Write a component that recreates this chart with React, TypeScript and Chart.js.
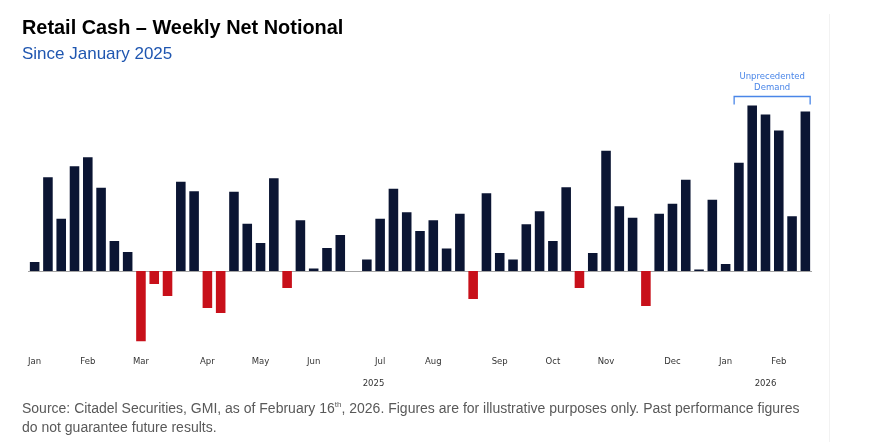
import React, { useEffect, useRef } from "react";
import { Chart, registerables } from "chart.js";

Chart.register(...registerables);

// Weekly buckets since January 2025 (month label on the first week of each month)
const weekLabels: string[] = [
  "Jan", "", "", "", "Feb", "", "", "", "Mar", "", "", "", "", "Apr", "", "", "",
  "May", "", "", "", "Jun", "", "", "", "", "Jul", "", "", "", "Aug", "", "", "", "",
  "Sep", "", "", "", "Oct", "", "", "", "Nov", "", "", "", "", "Dec", "", "", "",
  "Jan", "", "", "", "Feb", "", "",
];

// Retail cash weekly net notional (relative units)
const netNotional: number[] = [
  9, 94, 52.5, 105, 114, 83.5, 30, 19, -70.5, -13, -25, 89.5, 80, -37, -42,
  79.5, 47.5, 28, 93, -17, 51, 2.5, 23, 36, 0, 11.5, 52.5, 82.5, 59, 40, 51,
  22.5, 57.5, -28, 78, 18, 11.5, 47, 60, 30, 84, -17, 18, 120.5, 65, 53.5,
  -35, 57.5, 67.5, 91.5, 1.5, 71.5, 7, 108.5, 166, 157, 141, 55, 160,
];

const yearLabels: string[] = ["2025", "2026"];
const yearLabelWeeks: number[] = [25.5, 55];

const annotationLines: string[] = ["Unprecedented", "Demand"];
const annotationWeeks: number[] = [53, 58];

const NAVY = "#0b1533";
const RED = "#c8101a";
const ANNOT = "#4a86e8";

const overlayPlugin = {
  id: "overlay",
  beforeDatasetsDraw(chart: any) {
    const { ctx, chartArea, scales } = chart;
    const y0 = Math.round(scales.y.getPixelForValue(0)) + 0.5;
    ctx.save();
    ctx.strokeStyle = "#a3a3a3";
    ctx.lineWidth = 1;
    ctx.beginPath();
    ctx.moveTo(chartArea.left, y0);
    ctx.lineTo(chartArea.right, y0);
    ctx.stroke();
    ctx.restore();
  },
  afterDraw(chart: any) {
    const { ctx, scales } = chart;
    const x = scales.x;
    const step = x.getPixelForValue(1) - x.getPixelForValue(0);
    ctx.save();
    // year labels
    ctx.fillStyle = "#333333";
    ctx.font = "8.5px 'DejaVu Sans'";
    ctx.textAlign = "center";
    ctx.textBaseline = "middle";
    yearLabels.forEach((t, i) => {
      const px = x.getPixelForValue(0) + yearLabelWeeks[i] * step;
      ctx.fillText(t, px, 384);
    });
    // annotation bracket
    const meta = chart.getDatasetMeta(0);
    const b0 = meta.data[annotationWeeks[0]];
    const b1 = meta.data[annotationWeeks[1]];
    const left = b0.x - b0.width / 2;
    const right = b1.x + b1.width / 2;
    const top = Math.min(...meta.data.slice(annotationWeeks[0], annotationWeeks[1] + 1).map((e: any) => e.y));
    const by = Math.round(top - 9) + 0.5;
    ctx.strokeStyle = ANNOT;
    ctx.lineWidth = 1.3;
    ctx.beginPath();
    ctx.moveTo(left, by + 8);
    ctx.lineTo(left, by);
    ctx.lineTo(right, by);
    ctx.lineTo(right, by + 8);
    ctx.stroke();
    ctx.fillStyle = ANNOT;
    ctx.font = "8.5px 'DejaVu Sans'";
    ctx.textBaseline = "alphabetic";
    const cx = (left + right) / 2;
    ctx.fillText(annotationLines[0], cx, by - 18);
    ctx.fillText(annotationLines[1], cx, by - 7);
    ctx.restore();
  },
};

export default function App() {
  const ref = useRef<HTMLCanvasElement | null>(null);

  useEffect(() => {
    document.body.style.margin = "0";
    const chart = new Chart(ref.current as HTMLCanvasElement, {
      type: "bar",
      data: {
        labels: weekLabels,
        datasets: [
          {
            data: netNotional,
            backgroundColor: netNotional.map((v) => (v < 0 ? RED : NAVY)),
            borderWidth: 0,
            categoryPercentage: 1,
            barPercentage: 0.72,
          },
        ],
      },
      options: {
        animation: false,
        responsive: false,
        maintainAspectRatio: false,
        layout: { padding: { top: 91.5, left: 28, right: 66, bottom: 65.5 } },
        plugins: {
          legend: { display: false },
          tooltip: { enabled: false },
          title: { display: false },
        },
        scales: {
          x: {
            grid: { display: false, drawTicks: false },
            border: { display: false },
            ticks: {
              autoSkip: false,
              maxRotation: 0,
              minRotation: 0,
              padding: 10,
              color: "#333333",
              font: { family: "'DejaVu Sans'", size: 8.5 },
            },
          },
          y: {
            display: false,
            min: -75.5,
            max: 180,
          },
        },
      },
      plugins: [overlayPlugin],
    });
    return () => chart.destroy();
  }, []);

  return (
    <div style={{ position: "fixed", left: 0, top: 0, width: 878, height: 442, background: "#fff", overflow: "hidden" }}>
      <div style={{ position: "absolute", left: 829, top: 14, width: 1, height: 428, background: "#f2f2f2" }} />
      <canvas ref={ref} width={878} height={442} style={{ position: "absolute", left: 0, top: 0, width: 878, height: 442 }} />
      <div
        style={{
          position: "absolute", left: 22, top: 17, fontFamily: "'Liberation Sans', Arial, sans-serif",
          fontWeight: 700, fontSize: 19.9, lineHeight: "20px", color: "#000", whiteSpace: "nowrap",
        }}
      >
        Retail Cash – Weekly Net Notional
      </div>
      <div
        style={{
          position: "absolute", left: 22, top: 45, fontFamily: "'Liberation Sans', Arial, sans-serif",
          fontSize: 17, lineHeight: "17px", color: "#1f56b0", whiteSpace: "nowrap",
        }}
      >
        Since January 2025
      </div>
      <div
        style={{
          position: "absolute", left: 22, top: 398.5, width: 792, fontFamily: "'Liberation Sans', Arial, sans-serif",
          fontSize: 14, lineHeight: "19px", color: "#595959",
        }}
      >
        Source: Citadel Securities, GMI, as of February 16<sup style={{ fontSize: 8, lineHeight: 0 }}>th</sup>, 2026. Figures are for illustrative purposes only. Past performance figures do not guarantee future results.
      </div>
    </div>
  );
}
